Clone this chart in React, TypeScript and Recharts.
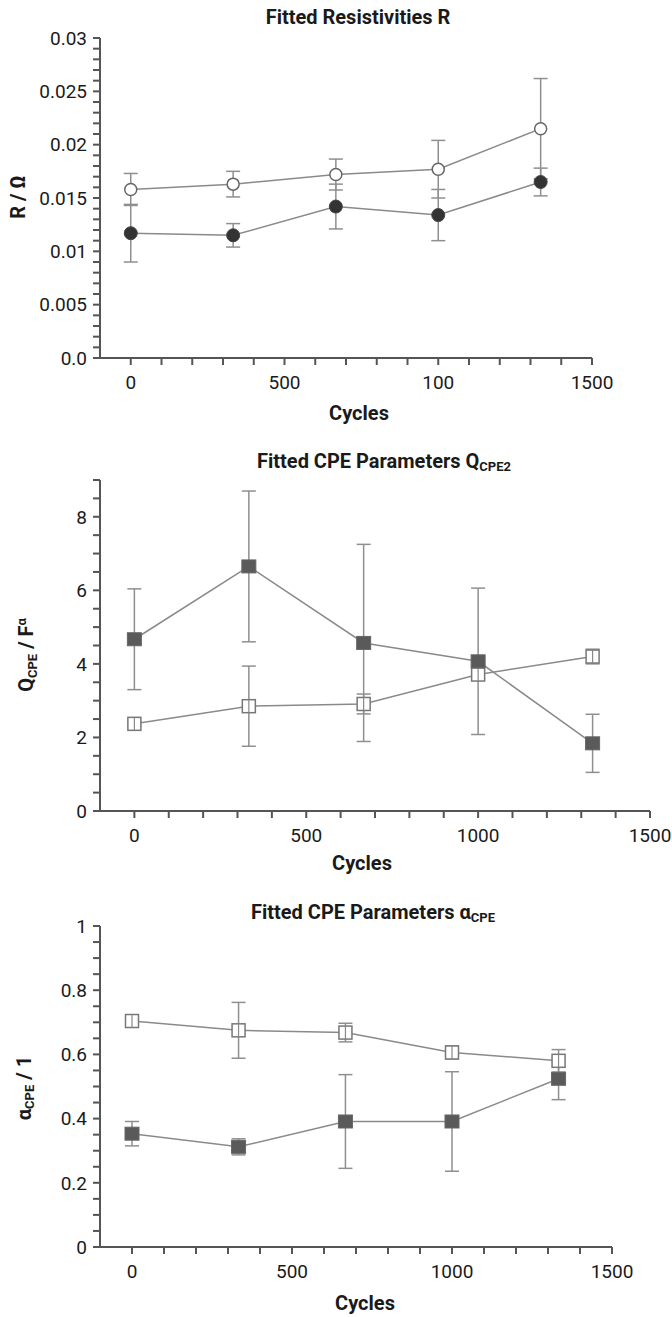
import React from 'react';
import { LineChart, Line, XAxis, YAxis, ErrorBar } from 'recharts';

const cycles = [0, 333, 667, 1000, 1333];

// panel 1: fitted resistivities
const rOpen = [0.0158, 0.0163, 0.0172, 0.0177, 0.0215];
const rOpenErr = [0.0015, 0.0012, 0.00145, 0.0027, 0.0047];
const rFilled = [0.0117, 0.0115, 0.0142, 0.0134, 0.0165];
const rFilledErr = [0.0027, 0.0011, 0.0021, 0.0024, 0.0013];

// panel 2: Q_CPE2
const qOpen = [2.37, 2.85, 2.91, 3.71, 4.2];
const qOpenErr = [0.07, 1.09, 0.27, 0.1, 0.2];
const qFilled = [4.67, 6.65, 4.57, 4.07, 1.84];
const qFilledErr = [1.37, 2.05, 2.68, 1.99, 0.79];

// panel 3: alpha_CPE
const aOpen = [0.704, 0.675, 0.668, 0.606, 0.58];
const aOpenErr = [0.015, 0.087, 0.029, 0.02, 0.035];
const aFilled = [0.353, 0.312, 0.391, 0.391, 0.524];
const aFilledErr = [0.038, 0.025, 0.146, 0.155, 0.065];

// axis ticks
const xMajor = [0, 500, 1000, 1500];
const xMajorLabels1 = ['0', '500', '100', '1500'];
const xMajorLabels = ['0', '500', '1000', '1500'];
const xMinorStep = 100;

const rMajor = [0, 0.005, 0.01, 0.015, 0.02, 0.025, 0.03];
const rMajorLabels = ['0.0', '0.005', '0.01', '0.015', '0.02', '0.025', '0.03'];
const rMinorStep = 0.001;

const qMajor = [0, 2, 4, 6, 8];
const qMajorLabels = ['0', '2', '4', '6', '8'];
const qMinorStep = 0.5;
const qMax = 9;

const aMajor = [0, 0.2, 0.4, 0.6, 0.8, 1];
const aMajorLabels = ['0', '0.2', '0.4', '0.6', '0.8', '1'];
const aMinorStep = 0.05;

const FONT = 'Roboto, "Open Sans", sans-serif';
const AXIS = '#555';
const LINE = '#8a8a8a';
const ERR = '#8f8f8f';

const makeTicks = (max: number, step: number) => {
  const out: number[] = [];
  const n = Math.round(max / step);
  for (let i = 0; i <= n; i++) out.push(+(i * step).toFixed(6));
  return out;
};

const build = (o: number[], oe: number[], f: number[], fe: number[]) =>
  cycles.map((c, i) => ({ cycles: c, open: o[i], openErr: oe[i], filled: f[i], filledErr: fe[i] }));

const lookup = (v: number, majors: number[], labels: string[]) => {
  const i = majors.findIndex((m) => Math.abs(m - v) < 1e-9);
  return i >= 0 ? labels[i] : null;
};

const XTick = (majors: number[], labels: string[]) => (props: any) => {
  const { x, y, payload } = props;
  const label = lookup(payload.value, majors, labels);
  if (label === null) return <g />;
  return (
    <text x={x} y={y} dy="0.71em" textAnchor="middle" fontFamily={FONT} fontSize={19} fill="#1a1a1a">
      {label}
    </text>
  );
};

const YTick = (majors: number[], labels: string[]) => (props: any) => {
  const { x, y, payload } = props;
  const label = lookup(payload.value, majors, labels);
  if (label === null) return <g />;
  return (
    <text x={x} y={y} dy="0.355em" textAnchor="end" fontFamily={FONT} fontSize={19} fill="#1a1a1a">
      {label}
    </text>
  );
};

const openCircle = (p: any) => (
  <circle key={`oc-${p.index}`} cx={p.cx} cy={p.cy} r={6} fill="#fff" stroke="#666" strokeWidth={1.5} />
);
const filledCircle = (p: any) => (
  <circle key={`fc-${p.index}`} cx={p.cx} cy={p.cy} r={6.5} fill="#333" stroke="#444" strokeWidth={1} />
);
const openSquare = (p: any) => (
  <g key={`os-${p.index}`}>
    <rect x={p.cx - 6.5} y={p.cy - 6.5} width={13} height={13} fill="#fff" stroke="#777" strokeWidth={1.5} />
    <line x1={p.cx} y1={p.cy - 6.5} x2={p.cx} y2={p.cy + 6.5} stroke="#888" strokeWidth={1.2} />
  </g>
);
const filledSquare = (p: any) => (
  <rect key={`fs-${p.index}`} x={p.cx - 7} y={p.cy - 6.5} width={14} height={13} fill="#5a5a5a" stroke="#666" strokeWidth={1} />
);

const xTicks = makeTicks(1500, xMinorStep);

type PanelProps = {
  top: number;
  height: number;
  margin: { top: number; right: number; bottom: number; left: number };
  data: any[];
  yMax: number;
  yTicks: number[];
  yMajor: number[];
  yLabels: string[];
  xLabels: string[];
  openDot: (p: any) => React.ReactElement;
  filledDot: (p: any) => React.ReactElement;
};

const Panel = ({ top, height, margin, data, yMax, yTicks, yMajor, yLabels, xLabels, openDot, filledDot }: PanelProps) => (
  <div style={{ position: 'absolute', left: 0, top }}>
    <LineChart width={672} height={height} data={data} margin={margin}>
      <XAxis
        type="number"
        dataKey="cycles"
        domain={[-100, 1500]}
        ticks={xTicks}
        interval={0}
        height={30}
        tickSize={7}
        tickMargin={11}
        axisLine={{ stroke: AXIS, strokeWidth: 2 }}
        tickLine={{ stroke: AXIS, strokeWidth: 2 }}
        tick={XTick(xMajor, xLabels)}
      />
      <YAxis
        type="number"
        domain={[0, yMax]}
        ticks={yTicks}
        interval={0}
        width={60}
        tickSize={7}
        tickMargin={6}
        axisLine={{ stroke: AXIS, strokeWidth: 2 }}
        tickLine={{ stroke: AXIS, strokeWidth: 2 }}
        tick={YTick(yMajor, yLabels)}
      />
      <Line type="linear" dataKey="open" stroke={LINE} strokeWidth={1.5} dot={openDot} activeDot={false} isAnimationActive={false}>
        <ErrorBar dataKey="openErr" width={7} stroke={ERR} strokeWidth={1.5} direction="y" />
      </Line>
      <Line type="linear" dataKey="filled" stroke={LINE} strokeWidth={1.5} dot={filledDot} activeDot={false} isAnimationActive={false}>
        <ErrorBar dataKey="filledErr" width={7} stroke={ERR} strokeWidth={1.5} direction="y" />
      </Line>
    </LineChart>
  </div>
);

const textBase: React.CSSProperties = {
  position: 'absolute',
  fontFamily: FONT,
  fontWeight: 700,
  fontSize: 20,
  color: '#1a1a1a',
  whiteSpace: 'nowrap',
  lineHeight: 1,
};

const Centered = ({ x, y, rotate, children }: { x: number; y: number; rotate?: boolean; children: React.ReactNode }) => (
  <div
    style={{
      ...textBase,
      left: x,
      top: y,
      transform: `translate(-50%, -50%)${rotate ? ' rotate(-90deg)' : ''}`,
    }}
  >
    {children}
  </div>
);

const subStyle: React.CSSProperties = { fontSize: 13, verticalAlign: '-0.25em' };
const supStyle: React.CSSProperties = { fontSize: 13, verticalAlign: '0.55em' };

export default function App() {
  return (
    <div style={{ position: 'absolute', left: 0, top: 0, width: 672, height: 1317, background: '#fff' }}>
      <Panel
        top={0}
        height={430}
        margin={{ top: 38, right: 80, bottom: 42, left: 40 }}
        data={build(rOpen, rOpenErr, rFilled, rFilledErr)}
        yMax={0.03}
        yTicks={makeTicks(0.03, rMinorStep)}
        yMajor={rMajor}
        yLabels={rMajorLabels}
        xLabels={xMajorLabels1}
        openDot={openCircle}
        filledDot={filledCircle}
      />
      <Panel
        top={430}
        height={440}
        margin={{ top: 50, right: 22, bottom: 29, left: 40 }}
        data={build(qOpen, qOpenErr, qFilled, qFilledErr)}
        yMax={qMax}
        yTicks={makeTicks(qMax, qMinorStep)}
        yMajor={qMajor}
        yLabels={qMajorLabels}
        xLabels={xMajorLabels}
        openDot={openSquare}
        filledDot={filledSquare}
      />
      <Panel
        top={870}
        height={447}
        margin={{ top: 56, right: 60, bottom: 40, left: 40 }}
        data={build(aOpen, aOpenErr, aFilled, aFilledErr)}
        yMax={1}
        yTicks={makeTicks(1, aMinorStep)}
        yMajor={aMajor}
        yLabels={aMajorLabels}
        xLabels={xMajorLabels}
        openDot={openSquare}
        filledDot={filledSquare}
      />

      <Centered x={358} y={17}>Fitted Resistivities R</Centered>
      <Centered x={18} y={197} rotate>R / Ω</Centered>
      <Centered x={359} y={413}>Cycles</Centered>

      <Centered x={384} y={462}>
        Fitted CPE Parameters Q<span style={subStyle}>CPE2</span>
      </Centered>
      <Centered x={27} y={655} rotate>
        Q<span style={subStyle}>CPE</span> / F<span style={supStyle}>α</span>
      </Centered>
      <Centered x={362} y={863}>Cycles</Centered>

      <Centered x={373} y={913}>
        Fitted CPE Parameters α<span style={subStyle}>CPE</span>
      </Centered>
      <Centered x={25} y={1088} rotate>
        α<span style={subStyle}>CPE</span> / 1
      </Centered>
      <Centered x={365} y={1303}>Cycles</Centered>
    </div>
  );
}
